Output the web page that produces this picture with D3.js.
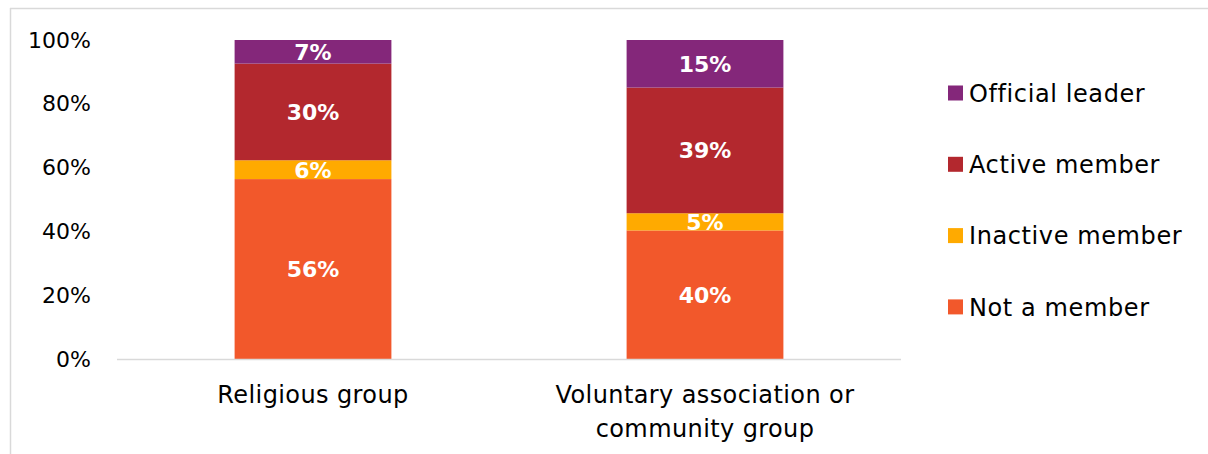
<!DOCTYPE html>
<html>
<head>
<meta charset="utf-8">
<script src="https://cdn.jsdelivr.net/npm/d3@7"></script>
<style>
  body { margin: 0; background: #fff; }
  svg text { font-family: "DejaVu Sans", "Liberation Sans", sans-serif; }
</style>
</head>
<body>
<div id="chart"></div>
<script>
var svgWidth = 1208;
var svgHeight = 454;

// data
var categories = [["Religious group"], ["Voluntary association or", "community group"]];
var seriesNames = ["Not a member", "Inactive member", "Active member", "Official leader"];
var seriesColors = ["#F2582B", "#FFAA00", "#B3282E", "#84277A"];
var notMember = [56.4, 40.3];
var inactiveMember = [5.9, 5.4];
var activeMember = [30.3, 39.4];
var officialLeader = [7.4, 14.9];
var yTicks = [0, 20, 40, 60, 80, 100];

var margin = { top: 40, left: 117, right: 307, bottom: 95 };
var width = svgWidth - margin.left - margin.right;
var height = svgHeight - margin.top - margin.bottom;

var svg = d3.select("#chart")
  .append("svg")
  .attr("width", svgWidth)
  .attr("height", svgHeight);

// outer frame (top + left edges visible)
svg.append("line")
  .attr("x1", 10).attr("x2", svgWidth).attr("y1", 8.5).attr("y2", 8.5)
  .attr("stroke", "#d9d9d9").attr("stroke-width", 1.5);
svg.append("line")
  .attr("x1", 10.5).attr("x2", 10.5).attr("y1", 8).attr("y2", svgHeight)
  .attr("stroke", "#d9d9d9").attr("stroke-width", 1.5);

var chartGroup = svg.append("g")
  .attr("transform", `translate(${margin.left}, ${margin.top})`);

var rows = categories.map(function(c, i) {
  return {
    idx: i,
    "Not a member": notMember[i],
    "Inactive member": inactiveMember[i],
    "Active member": activeMember[i],
    "Official leader": officialLeader[i]
  };
});

var stacked = d3.stack().keys(seriesNames)(rows);

var xScale = d3.scaleBand()
  .domain(categories.map((c, i) => i))
  .range([0, width])
  .paddingInner(0.6)
  .paddingOuter(0.3);

var yScale = d3.scaleLinear()
  .domain([0, 100])
  .range([height, 0]);

// y tick labels
var leftAxis = d3.axisLeft(yScale)
  .tickValues(yTicks)
  .tickSize(0)
  .tickPadding(26)
  .tickFormat(d => d + "%");

var yAxis = chartGroup.append("g").call(leftAxis);
yAxis.select(".domain").remove();
yAxis.selectAll("text")
  .style("font-size", "22px")
  .attr("fill", "#000");

// bars
var layers = chartGroup.selectAll(".layer")
  .data(stacked)
  .enter()
  .append("g")
  .attr("class", "layer")
  .attr("fill", (d, i) => seriesColors[i]);

layers.selectAll("rect")
  .data(d => d)
  .enter()
  .append("rect")
  .attr("x", d => xScale(d.data.idx))
  .attr("y", d => yScale(d[1]))
  .attr("width", xScale.bandwidth())
  .attr("height", d => yScale(d[0]) - yScale(d[1]));

// data labels
layers.selectAll(".lbl")
  .data(d => d)
  .enter()
  .append("text")
  .attr("class", "lbl")
  .attr("x", d => xScale(d.data.idx) + xScale.bandwidth() / 2)
  .attr("y", d => (yScale(d[0]) + yScale(d[1])) / 2)
  .attr("dy", "0.36em")
  .attr("text-anchor", "middle")
  .attr("fill", "#fff")
  .style("font-size", "22px")
  .style("font-weight", "bold")
  .text(d => Math.round(d[1] - d[0]) + "%");

// baseline
chartGroup.append("line")
  .attr("x1", 0).attr("x2", width)
  .attr("y1", yScale(0) + 0.5).attr("y2", yScale(0) + 0.5)
  .attr("stroke", "#d9d9d9").attr("stroke-width", 1.5);

// category labels
var catLabels = chartGroup.selectAll(".cat")
  .data(categories)
  .enter()
  .append("text")
  .attr("class", "cat")
  .attr("text-anchor", "middle")
  .attr("fill", "#000")
  .style("font-size", "24px")
  .style("letter-spacing", "0.4px")
  .attr("transform", (d, i) => `translate(${xScale(i) + xScale.bandwidth() / 2}, ${height + 44})`);

catLabels.selectAll("tspan")
  .data(d => d)
  .enter()
  .append("tspan")
  .attr("x", 0)
  .attr("dy", (d, i) => i === 0 ? 0 : 34)
  .text(d => d);

// legend (top to bottom: reversed series)
var legendSeries = seriesNames.slice().reverse();
var legendColors = seriesColors.slice().reverse();
var legend = svg.append("g")
  .attr("transform", "translate(948, 93)");

var items = legend.selectAll(".item")
  .data(legendSeries)
  .enter()
  .append("g")
  .attr("transform", (d, i) => `translate(0, ${i * 71.3})`);

items.append("rect")
  .attr("x", 0).attr("y", -7.5)
  .attr("width", 15).attr("height", 15)
  .attr("fill", (d, i) => legendColors[i]);

items.append("text")
  .attr("x", 21)
  .attr("dy", "0.36em")
  .attr("fill", "#000")
  .style("font-size", "24px")
  .style("letter-spacing", "0.6px")
  .text(d => d);
</script>
</body>
</html>
